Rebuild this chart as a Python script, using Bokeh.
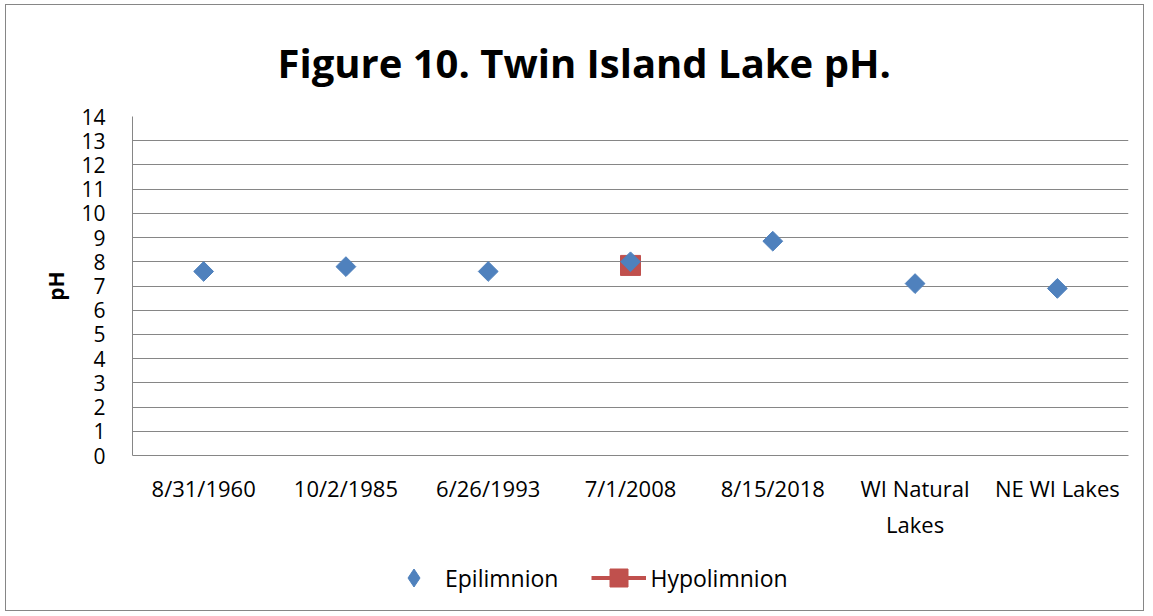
from bokeh.plotting import figure
from bokeh.layouts import column
from bokeh.models import ColumnDataSource, Legend, LegendItem, Title, SingleIntervalTicker, FixedTicker
from bokeh.embed import file_html
from bokeh.resources import INLINE

categories = ["8/31/1960", "10/2/1985", "6/26/1993", "7/1/2008", "8/15/2018", "WI Natural Lakes", "NE WI Lakes"]
tick_labels = ["8/31/1960", "10/2/1985", "6/26/1993", "7/1/2008", "8/15/2018", "WI Natural\nLakes", "NE WI Lakes"]
epilimnion = [7.6, 7.8, 7.6, 8.0, 8.85, 7.1, 6.9]
hypo_categories = ["7/1/2008"]
hypolimnion = [7.85]
series_names = ["Epilimnion", "Hypolimnion"]

FONT = "Open Sans"
GRID = "#868686"
BLUE = "#4F81BD"
RED = "#C0504D"

pos = {c: i + 0.5 for i, c in enumerate(categories)}

p = figure(x_range=(0, len(categories)), y_range=(0, 14),
           width=1137, height=545, output_backend="svg", toolbar_location=None,
           min_border_left=126, min_border_right=15, min_border_top=111, min_border_bottom=95)

p.title = None
t = Title(text="Figure 10. Twin Island Lake pH.", align="left", offset=145,
          text_font=FONT, text_font_size="40px", text_font_style="bold",
          text_color="#000000", standoff=54)
p.add_layout(t, "above")

p.outline_line_color = None
p.xgrid.grid_line_color = None
p.ygrid.grid_line_color = GRID
p.ygrid.grid_line_width = 1

p.yaxis.ticker = SingleIntervalTicker(interval=1)
p.yaxis.axis_line_color = GRID
p.yaxis.major_tick_out = 0
p.yaxis.major_tick_in = 0
p.yaxis.minor_tick_line_color = None
p.yaxis.major_label_text_font = FONT
p.yaxis.major_label_text_font_size = "21px"
p.yaxis.major_label_text_color = "#000000"
p.yaxis.major_label_standoff = 23
p.yaxis.axis_label = "pH"
p.yaxis.axis_label_text_font = FONT
p.yaxis.axis_label_text_font_size = "21px"
p.yaxis.axis_label_text_font_style = "bold"
p.yaxis.axis_label_text_color = "#000000"
p.yaxis.axis_label_standoff = 8

ticks = [pos[c] for c in categories]
p.xaxis.ticker = FixedTicker(ticks=ticks)
p.xaxis.major_label_overrides = {tk: lab for tk, lab in zip(ticks, tick_labels)}
p.xaxis.axis_line_color = GRID
p.xaxis.major_tick_out = 0
p.xaxis.major_tick_in = 0
p.xaxis.minor_tick_line_color = None
p.xaxis.major_label_text_font = FONT
p.xaxis.major_label_text_font_size = "22px"
p.xaxis.major_label_text_color = "#000000"
p.xaxis.major_label_standoff = 17

hsrc = ColumnDataSource(dict(x=[pos[c] for c in hypo_categories], y=hypolimnion))
esrc = ColumnDataSource(dict(x=[pos[c] for c in categories], y=epilimnion))

p.line("x", "y", source=hsrc, line_color=RED, line_width=4)
p.scatter("x", "y", source=hsrc, marker="square", size=20, fill_color=RED, line_color=RED)
p.scatter("x", "y", source=esrc, marker="square", angle=0.785398, size=14,
          fill_color=BLUE, line_color=BLUE)

# legend strip below the chart (its ranges keep the series data out of view)
lf = figure(width=1137, height=60, output_backend="svg", toolbar_location=None,
            min_border=0, x_range=(0, 1), y_range=(100, 101))
lf.axis.visible = False
lf.grid.visible = False
lf.outline_line_color = None
e_proxy = lf.scatter("x", "y", source=esrc, marker="diamond", size=14, fill_color=BLUE, line_color=BLUE)
h_line = lf.line("x", "y", source=hsrc, line_color=RED, line_width=4)
h_sq = lf.scatter("x", "y", source=hsrc, marker="square", size=20, fill_color=RED, line_color=RED)
legend = Legend(items=[LegendItem(label=series_names[0], renderers=[e_proxy]),
                       LegendItem(label=series_names[1], renderers=[h_line, h_sq])],
                orientation="horizontal", location=(254, 10),
                glyph_width=55, glyph_height=45, label_standoff=4, spacing=33, padding=0, margin=0,
                label_text_font=FONT, label_text_font_size="23px", label_text_color="#000000",
                border_line_color=None, background_fill_alpha=0)
lf.add_layout(legend, "center")

layout = column(p, lf, spacing=0,
                styles={"border": "1px solid #868686", "margin-left": "5px", "margin-top": "4px"})

open("out.html", "w").write(file_html(layout, INLINE))
